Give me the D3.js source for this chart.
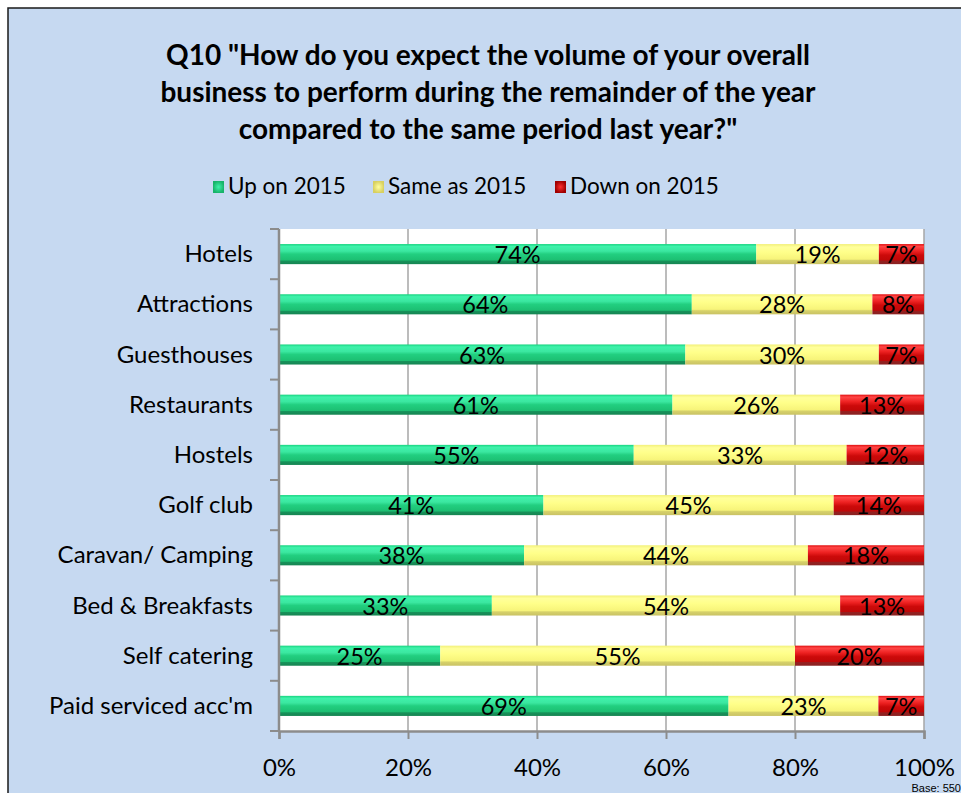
<!DOCTYPE html>
<html>
<head>
<meta charset="utf-8">
<script src="https://cdn.jsdelivr.net/npm/d3@7"></script>
<style>
  html, body { margin: 0; padding: 0; background: #ffffff; }
  svg { display: block; }
  text { font-family: Lato, "Open Sans", sans-serif; fill: #000; }
</style>
</head>
<body>
<svg id="chart" width="961" height="793"></svg>
<script>
// Survey results: expected business volume by sector
const categories = ["Hotels", "Attractions", "Guesthouses", "Restaurants", "Hostels",
  "Golf club", "Caravan/ Camping", "Bed & Breakfasts", "Self catering", "Paid serviced acc'm"];
const upOn2015   = [74, 64, 63, 61, 55, 41, 38, 33, 25, 69];
const sameAs2015 = [19, 28, 30, 26, 33, 45, 44, 54, 55, 23];
const downOn2015 = [7, 8, 7, 13, 12, 14, 18, 13, 20, 7];
const seriesNames = ["Up on 2015", "Same as 2015", "Down on 2015"];
const xTicks = [0, 0.2, 0.4, 0.6, 0.8, 1];
const titleLines = [
  "Q10 \"How do you expect the volume of your overall",
  "business to perform during the remainder of the year",
  "compared to the same period last year?\""
];
const baseNote = "Base: 550";

const rows = categories.map((c, i) => ({
  category: c,
  "Up on 2015": upOn2015[i],
  "Same as 2015": sameAs2015[i],
  "Down on 2015": downOn2015[i]
}));

const svg = d3.select("#chart");
const W = 961, H = 793;

// chart area background with frame
svg.append("rect")
  .attr("x", 8).attr("y", 8).attr("width", W + 10).attr("height", H + 10)
  .attr("fill", "#c6d9f1").attr("stroke", "#1a1a1a").attr("stroke-width", 1.5);

// title
svg.append("g").selectAll("text").data(titleLines).join("text")
  .attr("x", 488).attr("y", (d, i) => 65 + i * 37)
  .attr("text-anchor", "middle")
  .style("font-size", "28px").style("font-weight", "bold")
  .text(d => d);

// gradients giving the bars a cylindrical look
const defs = svg.append("defs");
const gradStops = {
  "Up on 2015":   [["0%", "#17d47f"], ["12%", "#3ff2ab"], ["35%", "#3be7a0"], ["50%", "#22cf80"], ["80%", "#1cbf72"], ["84%", "#17925a"], ["100%", "#168552"]],
  "Same as 2015": [["0%", "#f2f07a"], ["15%", "#ffff9c"], ["40%", "#ffff8a"], ["75%", "#f7f47a"], ["82%", "#d6d16a"], ["100%", "#c9c264"]],
  "Down on 2015": [["0%", "#e01010"], ["12%", "#ff4646"], ["35%", "#ee2222"], ["55%", "#cc0a0a"], ["80%", "#c00808"], ["84%", "#952020"], ["100%", "#8a2222"]]
};
const legendStops = {
  "Up on 2015":   ["#3ff2ab", "#17b46a"],
  "Same as 2015": ["#ffffa0", "#d8d060"],
  "Down on 2015": ["#ff3030", "#a00000"]
};
const gradId = name => "g-" + name.replace(/\s+/g, "-");
seriesNames.forEach(name => {
  const g = defs.append("linearGradient").attr("id", gradId(name))
    .attr("x1", 0).attr("y1", 0).attr("x2", 0).attr("y2", 1);
  gradStops[name].forEach(([o, c]) => g.append("stop").attr("offset", o).attr("stop-color", c));
  const lg = defs.append("radialGradient").attr("id", gradId(name) + "-lg");
  lg.append("stop").attr("offset", "0%").attr("stop-color", legendStops[name][0]);
  lg.append("stop").attr("offset", "100%").attr("stop-color", legendStops[name][1]);
});

// legend
const legendX = [213, 373, 555];
const legend = svg.append("g").selectAll("g").data(seriesNames).join("g")
  .attr("transform", (d, i) => `translate(${legendX[i]},181)`);
legend.append("rect").attr("width", 11).attr("height", 12)
  .attr("fill", d => `url(#${gradId(d)}-lg)`);
legend.append("text").attr("x", 15).attr("y", 13)
  .style("font-size", "22.5px").text(d => d);

// plot area
const plot = { left: 279, right: 924, top: 229, bottom: 731 };
svg.append("rect")
  .attr("x", plot.left).attr("y", plot.top)
  .attr("width", plot.right - plot.left).attr("height", plot.bottom - plot.top)
  .attr("fill", "#ffffff");

const x = d3.scaleLinear().domain([0, 1]).range([plot.left, plot.right]);
const y = d3.scaleBand().domain(categories).range([plot.top, plot.bottom])
  .paddingInner(0.6).paddingOuter(0.3);

// vertical gridlines
svg.append("g").selectAll("line").data(xTicks.slice(1)).join("line")
  .attr("x1", d => x(d)).attr("x2", d => x(d))
  .attr("y1", plot.top).attr("y2", plot.bottom)
  .attr("stroke", "#a6a6a6").attr("stroke-width", 1.5);

// 100% stacked bars
const stack = d3.stack().keys(seriesNames).offset(d3.stackOffsetExpand);
const layers = stack(rows);

const layerG = svg.append("g").selectAll("g").data(layers).join("g")
  .attr("fill", d => `url(#${gradId(d.key)})`);
layerG.selectAll("rect").data(d => d).join("rect")
  .attr("x", d => x(d[0]))
  .attr("y", d => y(d.data.category))
  .attr("width", d => x(d[1]) - x(d[0]))
  .attr("height", y.bandwidth());

// value labels
const labelG = svg.append("g");
layers.forEach(layer => {
  labelG.selectAll(null).data(layer).join("text")
    .attr("x", d => (x(d[0]) + x(d[1])) / 2)
    .attr("y", d => y(d.data.category) + y.bandwidth() / 2 + 9)
    .attr("text-anchor", "middle")
    .style("font-size", "23.5px")
    .text(d => d.data[layer.key] + "%");
});

// axes
const xAxis = d3.axisBottom(x).tickValues(xTicks).tickFormat(d3.format(".0%"))
  .tickSize(8).tickPadding(20);
const gx = svg.append("g").attr("transform", `translate(0,${plot.bottom})`).call(xAxis);
gx.select(".domain").attr("stroke", "#8c8c8c").attr("stroke-width", 2.5);
gx.selectAll(".tick line").attr("stroke", "#8c8c8c").attr("stroke-width", 2);
gx.selectAll(".tick text").style("font-size", "24px").style("font-family", "Lato, sans-serif").attr("fill", "#000");

const gy = svg.append("g").attr("transform", `translate(${plot.left},0)`);
gy.append("line").attr("x1", 0).attr("x2", 0).attr("y1", plot.top).attr("y2", plot.bottom)
  .attr("stroke", "#8c8c8c").attr("stroke-width", 2.5);
const boundaries = d3.range(categories.length + 1).map(i => plot.top + i * y.step());
gy.selectAll("line.tick").data(boundaries).join("line").attr("class", "tick")
  .attr("x1", -9).attr("x2", 0).attr("y1", d => d).attr("y2", d => d)
  .attr("stroke", "#8c8c8c").attr("stroke-width", 2);
gy.selectAll("text").data(categories).join("text")
  .attr("x", -26).attr("y", d => y(d) + y.bandwidth() / 2 + 8)
  .attr("text-anchor", "end")
  .style("font-size", "24px")
  .text(d => d);

// base note
svg.append("text").attr("x", 961).attr("y", 792)
  .attr("text-anchor", "end")
  .style("font-size", "11px").style("font-family", "'Liberation Sans', Arial, sans-serif")
  .text(baseNote);
</script>
</body>
</html>
